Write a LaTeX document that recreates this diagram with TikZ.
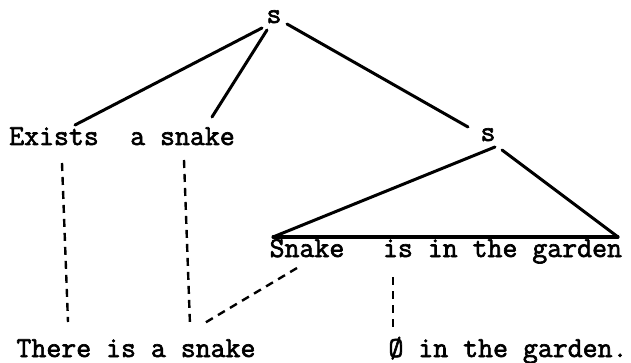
\documentclass[tikz,border=0pt]{standalone}
\usepackage{fontspec}
\newfontfamily\typewr[FakeBold=2.2]{Latin Modern Mono}
\begin{document}
\begin{tikzpicture}[x=1pt,y=-1pt,
  txt/.style={inner sep=0pt,anchor=base,font=\fontsize{29}{30}\selectfont\typewr},
  solid line/.style={line width=3pt,line cap=round},
  dash line/.style={line width=2.4pt,dash pattern=on 8pt off 6pt}]
\useasboundingbox (0,0) rectangle (631,363);
% text nodes
\node[txt] (top) at (274,23) {s};
\node[txt] (mid) at (488,141) {s};
\node[txt] (exists) at (54,145) {Exists};
\node[txt] (asnake) at (182.5,145) {a snake};
\node[txt] (snake) at (307,257) {Snake};
\node[txt] (isg) at (502.5,257) {is in the garden};
\node[txt] (there) at (136,357) {There is a snake};
\node[txt] (zero) at (508,357) {Ø in the garden.};
% attachment points
\coordinate (t1) at ([shift={(-12,5)}]top.base);
\coordinate (t2) at ([shift={(-7,7)}]top.base);
\coordinate (t3) at ([shift={(13,1)}]top.base);
\coordinate (ex) at ([shift={(21,-20)}]exists.base);
\coordinate (as) at ([shift={(29.5,-28)}]asnake.base);
\coordinate (m0) at ([shift={(-20,-14)}]mid.base);
\coordinate (m1) at ([shift={(7,6)}]mid.base);
\coordinate (m2) at ([shift={(14,9)}]mid.base);
\coordinate (lc) at ([shift={(-34,-20)}]snake.base);
\coordinate (rc) at ([shift={(115.5,-20)}]isg.base);
% solid tree lines
\draw[solid line] (t1) -- (ex);
\draw[solid line] (t2) -- (as);
\draw[solid line] (t3) -- (m0);
\draw[solid line] (m1) -- (lc);
\draw[solid line] (m2) -- (rc);
\draw[solid line] (lc) -- (rc);
% dashed correspondences
\draw[dash line] ([shift={(8,18)}]exists.base) -- ([shift={(-68,-35)}]there.base);
\draw[dash line] ([shift={(1.5,15)}]asnake.base) -- ([shift={(54,-32)}]there.base);
\draw[dash line] ([shift={(-10,11)}]snake.base) -- ([shift={(67,-33)}]there.base);
\draw[dash line] ([shift={(-109.5,20)}]isg.base) -- ([shift={(-115,-30)}]zero.base);
\end{tikzpicture}
\end{document}
